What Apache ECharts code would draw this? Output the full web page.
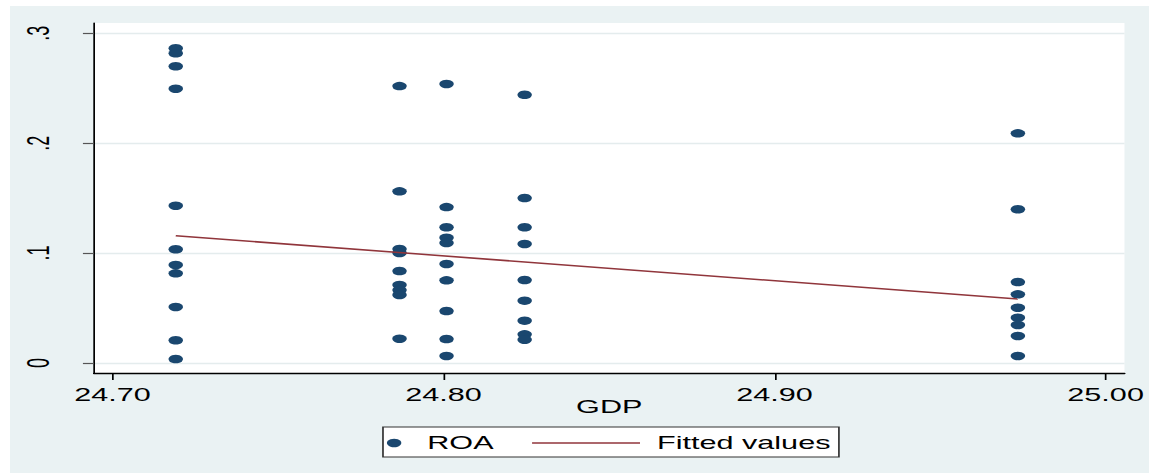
<!DOCTYPE html>
<html>
<head>
    <meta charset="UTF-8">
    <title>ROA vs GDP</title>
    <script src="https://cdn.jsdelivr.net/npm/echarts@6/dist/echarts.min.js"></script>
    <style>
        html, body { margin: 0; padding: 0; background: #fff; }
        /* the original Stata export is stretched sideways, so draw narrow and stretch */
        #chart {
            position: absolute; left: 10px; top: 6px;
            width: 670px; height: 467px;
            transform: scaleX(1.7); transform-origin: 0 0;
        }
    </style>
</head>
<body>
<div id="chart"></div>
<script>
    // GDP levels (one column of points per level) and ROA values in each column
    var gdpValues = [24.7191, 24.7867, 24.8009, 24.8245, 24.9735];
    var roaGroups = [
        [0.2864, 0.2818, 0.2700, 0.2496, 0.1431, 0.1035, 0.0892, 0.0816, 0.0510, 0.0207, 0.0036],
        [0.2520, 0.1562, 0.1037, 0.1001, 0.0837, 0.0710, 0.0664, 0.0619, 0.0221],
        [0.2539, 0.1419, 0.1235, 0.1140, 0.1092, 0.0901, 0.0752, 0.0473, 0.0218, 0.0064],
        [0.2441, 0.1501, 0.1235, 0.1083, 0.0755, 0.0567, 0.0385, 0.0261, 0.0212],
        [0.2090, 0.1399, 0.0737, 0.0625, 0.0503, 0.0412, 0.0346, 0.0246, 0.0064]
    ];
    // fitted line end points
    var fittedGdp = [24.7191, 24.9735];
    var fittedRoa = [0.1158, 0.0582];

    var xTicks = [24.7, 24.8, 24.9, 25.0];
    var xTickLabels = ['24.70', '24.80', '24.90', '25.00'];
    var yTicks = [0, 0.1, 0.2, 0.3];
    var yTickLabels = ['0', '.1', '.2', '.3'];

    var points = [];
    gdpValues.forEach(function (g, i) {
        roaGroups[i].forEach(function (r) { points.push([g, r]); });
    });
    var fitted = fittedGdp.map(function (g, i) { return [g, fittedRoa[i]]; });

    function lookup(ticks, labels, v) {
        for (var i = 0; i < ticks.length; i++) {
            if (Math.abs(ticks[i] - v) < 1e-9) return labels[i];
        }
        return '';
    }

    var font = '"Liberation Sans", Arial, sans-serif';
    var navy = '#1a476f';
    var maroon = '#90353b';

    var chart = echarts.init(document.getElementById('chart'), null, {renderer: 'svg'});
    chart.setOption({
        backgroundColor: '#eaf2f3',
        animation: false,
        grid: {
            left: 49.4, right: 11.8, top: 17, bottom: 100,
            show: true, backgroundColor: '#fff', borderWidth: 0
        },
        xAxis: {
            type: 'value',
            min: 24.6944, max: 25.0057,
            name: 'GDP',
            nameLocation: 'middle',
            nameGap: 25,
            nameMoveOverlap: false,
            nameTextStyle: {fontFamily: font, fontSize: 18, color: '#000'},
            axisLine: {show: true, onZero: false, lineStyle: {color: '#000', width: 1.3}},
            axisTick: {show: true, customValues: xTicks, length: 7, lineStyle: {color: '#000', width: 1}},
            axisLabel: {
                customValues: xTicks, margin: 13,
                fontFamily: font, fontSize: 18, color: '#000',
                formatter: function (v) { return lookup(xTicks, xTickLabels, v); }
            },
            splitLine: {show: false}
        },
        yAxis: {
            type: 'value',
            min: -0.0091, max: 0.3094,
            axisLine: {show: true, onZero: false, lineStyle: {color: '#000', width: 1}},
            axisTick: {show: true, customValues: yTicks, length: 6.5, lineStyle: {color: '#555', width: 1.2}},
            axisLabel: {
                customValues: yTicks, margin: 24, rotate: 90,
                fontFamily: font, fontSize: 18, color: '#000',
                formatter: function (v) { return lookup(yTicks, yTickLabels, v); }
            },
            splitLine: {show: true, lineStyle: {color: '#e4eced', width: 1.4}}
        },
        legend: [
            {
                data: [{name: 'ROA', icon: 'circle'}],
                left: 221.7, top: 428, padding: 0,
                itemWidth: 19, itemHeight: 8.5,
                selectedMode: false,
                textStyle: {fontFamily: font, fontSize: 18, color: '#000', padding: [0, 0, 0, 5]}
            },
            {
                data: [{name: 'Fitted values', icon: 'rect'}],
                left: 307.1, top: 428, padding: 0,
                itemWidth: 63.5, itemHeight: 1.5,
                selectedMode: false,
                itemStyle: {color: maroon},
                textStyle: {fontFamily: font, fontSize: 18, color: '#000', padding: [0, 0, 0, 5]}
            }
        ],
        graphic: [{
            type: 'rect', z: -1,
            shape: {x: 219.4, y: 421, width: 268.2, height: 30},
            style: {fill: '#fff', stroke: '#333', lineWidth: 1}
        }],
        series: [
            {
                name: 'ROA',
                type: 'scatter',
                data: points,
                symbol: 'circle',
                symbolSize: 8.5,
                itemStyle: {color: navy, opacity: 1}
            },
            {
                name: 'Fitted values',
                type: 'line',
                data: fitted,
                symbol: 'none',
                lineStyle: {color: maroon, width: 1.5},
                itemStyle: {color: maroon}
            }
        ]
    });
</script>
</body>
</html>
